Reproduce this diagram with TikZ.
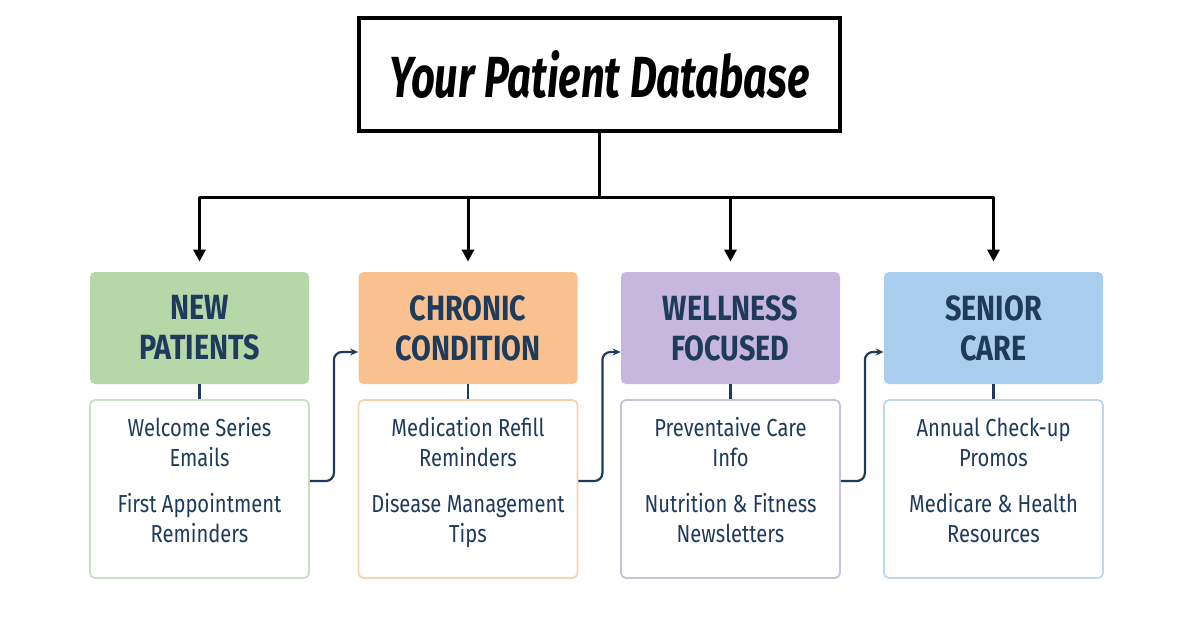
\documentclass[tikz,border=0pt]{standalone}
\usepackage{fontspec}
\usepackage{tikz}
\setmainfont{Fira Sans}[FakeStretch=0.82]
\newfontfamily\titlefont{Fira Sans}[FakeStretch=0.72]
\usetikzlibrary{arrows.meta}

\definecolor{navy}{HTML}{1F3B5C}
\definecolor{newfill}{HTML}{B6D7A8}
\definecolor{newline}{HTML}{C9E0C0}
\definecolor{chronicfill}{HTML}{F9C18F}
\definecolor{chronicline}{HTML}{F6D2AE}
\definecolor{wellfill}{HTML}{C7B6DD}
\definecolor{wellline}{HTML}{CBC0DC}
\definecolor{seniorfill}{HTML}{A9CDEC}
\definecolor{seniorline}{HTML}{BFD7EA}

\begin{document}
\begin{tikzpicture}
	[x=0.5pt,y=-0.5pt,
	title/.style={draw=black,line width=1.8pt,fill=white,minimum width=240.5pt,minimum height=56.5pt,
		font=\titlefont\fontsize{29}{34}\selectfont\bfseries\itshape},
	head/.style={rounded corners=2.5pt,minimum width=109.5pt,minimum height=56pt,align=center,
		text=navy,font=\fontsize{17.5}{20}\selectfont\bfseries},
	items/.style={draw,line width=0.9pt,fill=white,rounded corners=2.5pt,minimum width=109.5pt,
		minimum height=89pt,text depth=9pt,align=center,text=navy,font=\fontsize{12.3}{15}\selectfont},
	drop/.style={draw=black,line width=1.5pt,-{Triangle[length=6pt,width=6pt]}},
	feed/.style={draw=navy,line width=1.1pt,rounded corners=4pt,-{Stealth[length=4pt,width=3.5pt]}}]
	\useasboundingbox (0,0) rectangle (1200,621);
	\node[title] (db) at (599.5,74.5) {Your Patient Database};
	\node[head,fill=newfill] (new) at (199.5,328) {NEW\\PATIENTS};
	\node[head,fill=chronicfill] (chronic) at (468,328) {CHRONIC\\CONDITION};
	\node[head,fill=wellfill] (wellness) at (730.5,328) {WELLNESS\\FOCUSED};
	\node[head,fill=seniorfill] (senior) at (993.5,328) {SENIOR\\CARE};
	\node[items,draw=newline] (newlist) at (199.5,489)
		{Welcome Series\\Emails\\[8pt]First Appointment\\Reminders};
	\node[items,draw=chronicline] (chroniclist) at (468,489)
		{Medication Refill\\Reminders\\[8pt]Disease Management\\Tips};
	\node[items,draw=wellline] (wellnesslist) at (730.5,489)
		{Preventaive Care\\Info\\[8pt]Nutrition \& Fitness\\Newsletters};
	\node[items,draw=seniorline] (seniorlist) at (993.5,489)
		{Annual Check-up\\Promos\\[8pt]Medicare \& Health\\Resources};
	% split to the four segments
	\coordinate (split) at (599.5,197);
	\draw[line width=1.5pt] (db.south) -- (split);
	\draw[line width=1.5pt,line cap=round] (new.north |- split) -- (senior.north |- split);
	\foreach \seg in {new,chronic,wellness,senior}{
		\draw[drop] (\seg.north |- split) -- ([yshift=5pt]\seg.north);
		\draw[navy,line width=1.1pt] (\seg.south) -- (\seg list.north);
	}
	\foreach \from/\to in {newlist/chronic,chroniclist/wellness,wellnesslist/senior}
		\draw[feed] ([yshift=4pt]\from.east) -- ++(12pt,0) |- ([yshift=-12pt]\to.west);
\end{tikzpicture}
\end{document}
